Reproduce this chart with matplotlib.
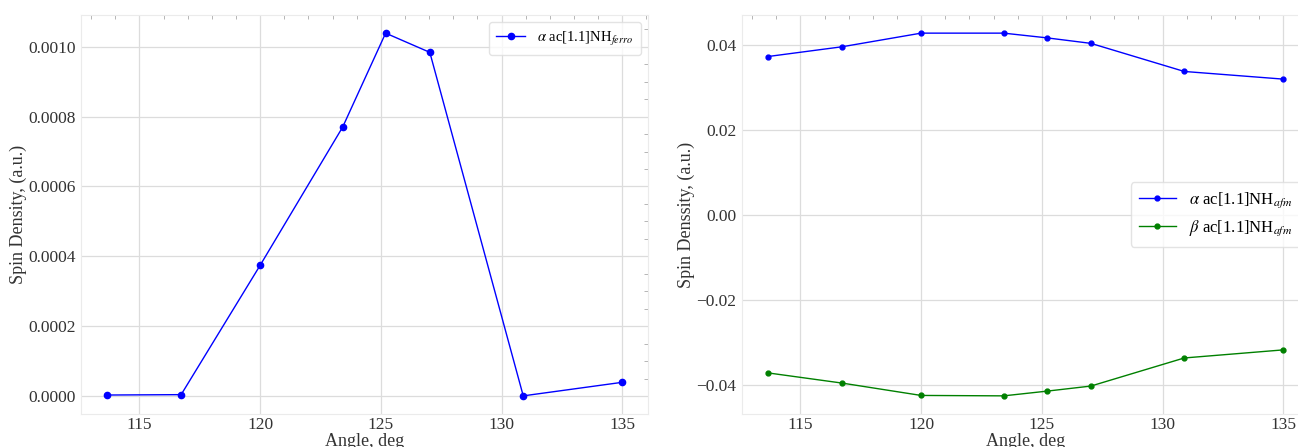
# Spin density vs angle for ac[1.1]NH (ferro and afm)
import numpy as np
import matplotlib
matplotlib.use("Agg")
import matplotlib.pyplot as plt
from matplotlib.ticker import MultipleLocator

# datos
angulos = [113.65, 116.73, 120.0, 123.42, 125.2, 127.03, 130.9, 135.0]
alpha_ferro = [0.0000029, 0.0000040, 0.000374, 0.000770, 0.001039, 0.000984, 0.0000005, 0.0000393]
alpha_afm = [0.0372, 0.0395, 0.0427, 0.0427, 0.0416, 0.0403, 0.0337, 0.0319]
beta_afm = [-0.0371, -0.0395, -0.0424, -0.0425, -0.0414, -0.0402, -0.0336, -0.0317]

plt.rcParams["font.family"] = ["Liberation Serif", "DejaVu Serif"]
plt.rcParams["mathtext.fontset"] = "stix"

fig = plt.figure(figsize=(12.98, 4.47), dpi=100)
W, H = 1298, 447
ax1 = fig.add_axes([81 / W, (H - 414) / H, 567 / W, 399 / H])
ax2 = fig.add_axes([742 / W, (H - 414) / H, 567 / W, 399 / H])


def estilo(ax):
    ax.grid(True, color="#dcdcdc", linewidth=0.9)
    ax.set_axisbelow(True)
    for s in ax.spines.values():
        s.set_color("#ebebeb")
        s.set_linewidth(0.8)
    ax.xaxis.set_major_locator(MultipleLocator(5))
    ax.xaxis.set_minor_locator(MultipleLocator(1))
    ax.tick_params(which="major", length=0, labelsize=12.5, colors="#333333")
    ax.tick_params(axis="x", which="major", pad=2)
    ax.tick_params(axis="y", which="major", pad=4)
    ax.tick_params(which="minor", direction="in", length=3, width=0.6,
                   color="#aaaaaa", bottom=False, left=False, top=True, right=True)
    ax.set_xlabel("Angle, deg", fontsize=13, color="#333333", labelpad=0)


# grafico izquierdo
ax1.plot(angulos, alpha_ferro, color="blue", marker="o", markersize=4.5, linewidth=1,
         label=r"$\alpha$ ac[1.1]NH$_{ferro}$")
estilo(ax1)
ax1.yaxis.set_minor_locator(MultipleLocator(0.00005))
ax1.set_yticks([0, 0.0002, 0.0004, 0.0006, 0.0008, 0.0010])
ax1.set_yticklabels(["0.0000", "0.0002", "0.0004", "0.0006", "0.0008", "0.0010"])
ax1.set_ylabel("Spin Density, (a.u.)", fontsize=13, color="#333333", labelpad=1)
ax1.legend(loc="upper right", fontsize=10.5, frameon=True, edgecolor="#dddddd",
           handlelength=2.0, borderpad=0.5)

# grafico derecho
ax2.plot(angulos, alpha_afm, color="blue", marker="o", markersize=3.5, linewidth=1,
         label=r"$\alpha$ ac[1.1]NH$_{afm}$")
ax2.plot(angulos, beta_afm, color="green", marker="o", markersize=3.5, linewidth=1,
         label=r"$\beta$ ac[1.1]NH$_{afm}$")
estilo(ax2)
ax2.yaxis.set_minor_locator(MultipleLocator(0.005))
ax2.set_yticks([-0.04, -0.02, 0.0, 0.02, 0.04])
ax2.set_yticklabels(["\u22120.04", "\u22120.02", "0.00", "0.02", "0.04"])
ax2.set_ylabel("Spin Denssity, (a.u.)", fontsize=13, color="#333333", labelpad=1)
ax2.legend(loc="center right", fontsize=12, frameon=True, edgecolor="#dddddd",
           handlelength=2.2, borderpad=0.5)

plt.savefig("out.png", dpi=100)
